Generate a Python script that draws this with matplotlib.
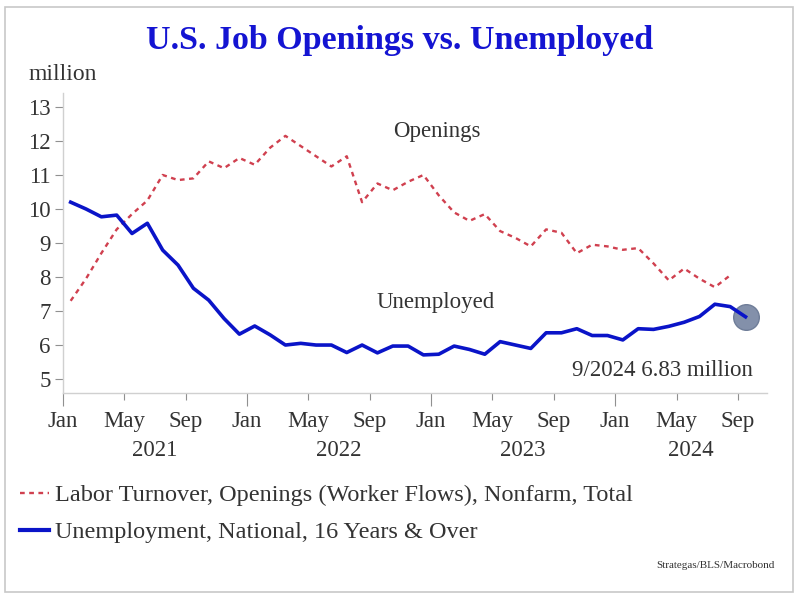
import matplotlib
matplotlib.use("Agg")
import matplotlib.pyplot as plt
from matplotlib.lines import Line2D
from matplotlib.patches import Rectangle

# ---- data (monthly, Jan 2021 .. Sep 2024) ----
months = ["Jan", "May", "Sep"]
years = ["2021", "2022", "2023", "2024"]

openings = [7.3, 7.95, 8.7, 9.4, 9.85, 10.25, 11.0, 10.85, 10.9, 11.4, 11.2, 11.5,
            11.3, 11.8, 12.15, 11.85, 11.55, 11.25, 11.55, 10.2, 10.75, 10.55, 10.8, 11.0,
            10.4, 9.9, 9.65, 9.85, 9.35, 9.15, 8.9, 9.4, 9.3, 8.7, 8.95, 8.9,
            8.8, 8.85, 8.4, 7.9, 8.25, 7.95, 7.7, 8.05]

unemployed = [10.2, 10.0, 9.77, 9.82, 9.28, 9.58, 8.79, 8.35, 7.67, 7.32, 6.78, 6.32,
              6.56, 6.3, 6.0, 6.05, 6.0, 6.0, 5.78, 6.0, 5.77, 5.97, 5.97, 5.71,
              5.73, 5.97, 5.87, 5.73, 6.1, 6.0, 5.9, 6.36, 6.36, 6.48, 6.28, 6.28,
              6.15, 6.48, 6.46, 6.55, 6.67, 6.84, 7.2, 7.13, 6.83]

yticks = [5, 6, 7, 8, 9, 10, 11, 12, 13]

plt.rcParams['font.family'] = ['Liberation Serif', 'DejaVu Serif']

fig = plt.figure(figsize=(8, 5.99), dpi=100)
fig.patch.set_facecolor('white')

# outer frame
fig.add_artist(Rectangle((5/800, 7/599), 788/800, 585/599, transform=fig.transFigure,
                         fill=False, edgecolor='#c8c8c8', linewidth=1.2))

ax = fig.add_axes([63/800, 1 - 393/599, (767-63)/800, (393-93)/599])

RED = '#d0404f'
BLUE = '#0a14c8'
TXT = '#333333'

x_open = list(range(len(openings)))
x_unemp = list(range(len(unemployed)))

ax.plot(x_open, openings, color=RED, lw=1.7, linestyle=(0, (2.0, 1.9)))
ax.plot(x_unemp, unemployed, color=BLUE, lw=2.6, solid_joinstyle='round', zorder=4)
ax.scatter([x_unemp[-1]], [unemployed[-1]], s=340, color='#8390aa', edgecolor='#6f7d98',
           linewidth=1.0, zorder=3)

ax.set_xlim(-0.5, 45.4)
ax.set_ylim(4.59, 13.41)

for s in ['top', 'right']:
    ax.spines[s].set_visible(False)
for s in ['left', 'bottom']:
    ax.spines[s].set_color('#d0d0d0')
    ax.spines[s].set_linewidth(1.0)

ax.set_yticks(yticks)
ax.set_yticklabels([str(v) for v in yticks])
ax.tick_params(axis='y', length=6, color='#909090', labelsize=16.5, labelcolor=TXT, pad=3)

# x ticks: Jan / May / Sep
tick_pos = [-0.5 + 4 * k for k in range(12)]
tick_lab = [months[k % 3] for k in range(12)]
ax.set_xticks(tick_pos)
ax.set_xticklabels(tick_lab)
ax.tick_params(axis='x', length=5, color='#909090', labelsize=16.5, labelcolor=TXT, pad=8)
for k, t in enumerate(ax.xaxis.get_major_ticks()):
    if k % 3 == 0:
        t.tick1line.set_markersize(9)

# year labels
year_centers = [5.5, 17.5, 29.5, 40.45]
for yc, yl in zip(year_centers, years):
    ax.text(yc, -0.19, yl, transform=ax.get_xaxis_transform(), ha='center', va='center',
            fontsize=16.5, color=TXT)

# annotations
ax.text(23.9, 12.29, "Openings", ha='center', va='center', fontsize=16.5, color=TXT)
ax.text(23.8, 7.26, "Unemployed", ha='center', va='center', fontsize=16.5, color=TXT)
ax.text(44.5, 5.26, "9/2024 6.83 million", ha='right', va='center', fontsize=16.5, color=TXT)

# title and unit
fig.text(0.5, 1 - 41/599, "U.S. Job Openings vs. Unemployed", ha='center', va='center',
         fontsize=24.5, fontweight='bold', color='#1414d2')
fig.text(28/800, 1 - 75/599, "million", ha='left', va='center', fontsize=17, color=TXT)

# legend
handles = [Line2D([0], [0], color=RED, lw=1.7, linestyle=(0, (2.0, 1.9))),
           Line2D([0], [0], color=BLUE, lw=3)]
labels = ["Labor Turnover, Openings (Worker Flows), Nonfarm, Total",
          "Unemployment, National, 16 Years & Over"]
fig.legend(handles, labels, loc='upper left', bbox_to_anchor=(20/800, 1 - 484/599),
           frameon=False, fontsize=17.5, handlelength=1.2, handletextpad=0.25,
           labelspacing=0.62, labelcolor=TXT, borderaxespad=0, borderpad=0)

fig.text(775/800, 1 - 566/599, "Strategas/BLS/Macrobond", ha='right', va='center',
         fontsize=8, color=TXT)

fig.savefig("out.png", dpi=100)
